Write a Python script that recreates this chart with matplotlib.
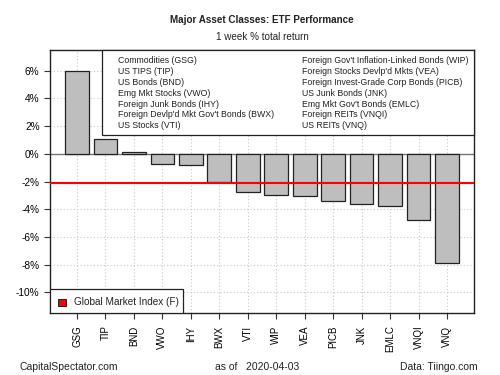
import matplotlib
matplotlib.use("Agg")
import matplotlib.pyplot as plt
from matplotlib.patches import Rectangle

plt.rcParams['font.family'] = ['Liberation Sans', 'DejaVu Sans']

tickers = ["GSG", "TIP", "BND", "VWO", "IHY", "BWX", "VTI", "WIP", "VEA", "PICB", "JNK", "EMLC", "VNQI", "VNQ"]
returns = [5.95, 1.04, 0.15, -0.72, -0.84, -2.05, -2.78, -2.94, -3.02, -3.38, -3.62, -3.74, -4.75, -7.9]
gmi = -2.12
legend_col1 = ["Commodities (GSG)", "US TIPS (TIP)", "US Bonds (BND)", "Emg Mkt Stocks (VWO)",
               "Foreign Junk Bonds (IHY)", "Foreign Devlp'd Mkt Gov't Bonds (BWX)", "US Stocks (VTI)"]
legend_col2 = ["Foreign Gov't Inflation-Linked Bonds (WIP)", "Foreign Stocks Devlp'd Mkts (VEA)",
               "Foreign Invest-Grade Corp Bonds (PICB)", "US Junk Bonds (JNK)", "Emg Mkt Gov't Bonds (EMLC)",
               "Foreign REITs (VNQI)", "US REITs (VNQ)"]
yticks = [-10, -8, -6, -4, -2, 0, 2, 4, 6]

fig = plt.figure(figsize=(5, 3.75), dpi=100)
ax = fig.add_axes([0.1, 0.1653, 0.848, 0.7014])

x = list(range(len(tickers)))
ax.set_xlim(-0.95, 13.95)
ax.set_ylim(-11.5, 7.5)
for v in yticks:
    ax.axhline(v, color="#c8c8c8", lw=0.8, ls=(0, (1, 2)), zorder=0)
for xi in x:
    ax.axvline(xi, color="#c8c8c8", lw=0.8, ls=(0, (1, 2)), zorder=0)
ax.bar(x, returns, width=0.833, color="#bebebe", edgecolor="#222222", linewidth=0.9, zorder=2)
ax.axhline(0, color="#777777", lw=1.0, zorder=1)
ax.axhline(gmi, color="red", lw=1.5, zorder=3)

ax.set_xticks(x)
ax.set_xticklabels(tickers, rotation=90, fontsize=7)
ax.set_yticks(yticks)
ax.set_yticklabels([f"{v}%" for v in yticks], fontsize=7.3)
ax.tick_params(axis='both', length=4, width=0.8, color="#333333")
ax.tick_params(axis='x', pad=5)
for s in ax.spines.values():
    s.set_color("#222222")
    s.set_linewidth(1.0)

# top legend box
ax.add_patch(Rectangle((0.1226, 0.677), 0.8774, 0.323, transform=ax.transAxes,
                       facecolor="white", edgecolor="#222222", lw=0.9, zorder=4, clip_on=False))
for i, t in enumerate(legend_col1):
    y = (313 - (61 + 10.8 * i)) / 263
    ax.text(0.16, y, t, transform=ax.transAxes, fontsize=6.35, va="center", ha="left", zorder=5, color="#222222")
for i, t in enumerate(legend_col2):
    y = (313 - (61 + 10.8 * i)) / 263
    ax.text(0.594, y, t, transform=ax.transAxes, fontsize=6.35, va="center", ha="left", zorder=5, color="#222222")

# bottom legend box
ax.add_patch(Rectangle((0, 0), 0.313, 0.0913, transform=ax.transAxes,
                       facecolor="white", edgecolor="#222222", lw=0.9, zorder=4))
ax.add_patch(Rectangle((0.018, 0.028), 0.019, 0.025, transform=ax.transAxes,
                       facecolor="red", edgecolor="#222222", lw=0.7, zorder=5))
ax.text(0.057, 0.04, "Global Market Index (F)", transform=ax.transAxes, fontsize=7.2,
        va="center", ha="left", zorder=5, color="#222222")

fig.text(0.524, 0.947, "Major Asset Classes: ETF Performance", ha="center", va="center",
         fontsize=7.1, fontweight="bold", color="#222222")
fig.text(0.524, 0.901, "1 week % total return", ha="center", va="center", fontsize=7.1, color="#222222")
fig.text(0.04, 0.0213, "CapitalSpectator.com", ha="left", va="center", fontsize=7.5, color="#222222")
fig.text(0.43, 0.0213, "as of   2020-04-03", ha="left", va="center", fontsize=7.5, color="#222222")
fig.text(0.956, 0.0213, "Data: Tiingo.com", ha="right", va="center", fontsize=7.5, color="#222222")

fig.savefig("out.png", dpi=100, facecolor="white")
